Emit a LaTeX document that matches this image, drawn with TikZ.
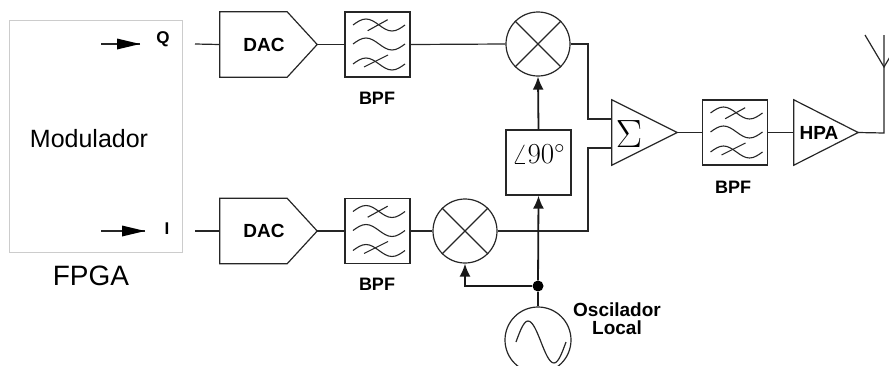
\documentclass[tikz,border=0pt]{standalone}
\usepackage{fontspec}
\setmainfont{Liberation Sans}
\usetikzlibrary{arrows.meta}
\tikzset{
  waves/.pic={
    \draw[line width=1.1pt, black!85] (-24.5,-19.5) sin (-11.5,-25.5) cos (1.5,-19.5) sin (14.5,-13.5) cos (27.5,-19.5);
    \draw[line width=1.1pt, black!85] (-24.5,-0.5) sin (-11.5,-6.5) cos (1.5,-0.5) sin (14.5,5.5) cos (27.5,-0.5);
    \draw[line width=1.1pt, black!85] (-24.5,19.5) sin (-11.5,13.5) cos (1.5,19.5) sin (14.5,25.5) cos (27.5,19.5);
    \draw[line width=1.1pt, black!85] (-9.8,-13.8) -- (10.2,-24.8);
    \draw[line width=1.1pt, black!85] (-13.5,22.5) -- (10.5,10.5);
  },
  headR/.pic={
    \fill[black] (0,0) -- (-23,-5.5) -- (-23,5.5) -- cycle;
  }
}
\begin{document}
\begin{tikzpicture}[x=1pt,y=-1pt,
  ln/.style={line width=1.2pt, draw=black!85},
  lo/.style={line width=1.8pt, draw=black!90},
  tip/.style={-{Latex[length=13pt,width=11pt]}},
  lbl/.style={font=\fontsize{18}{20}\selectfont\bfseries, inner sep=0},
  blk/.style={font=\fontsize{19}{20}\selectfont\bfseries, inner sep=0},
  pin/.style={font=\fontsize{17}{18}\selectfont\bfseries, inner sep=0},
  box/.style={draw=black!85, line width=1.2pt, minimum width=65pt, minimum height=65pt, inner sep=0},
  ghost/.style={minimum width=#1, minimum height=65pt, inner sep=0},
  mix/.style={circle, draw=black!85, line width=1.2pt, minimum size=64pt, inner sep=0},
]
\useasboundingbox (0,0) rectangle (889,365);

% FPGA / modulator
\node[draw=black!20, line width=1pt, minimum width=173pt, minimum height=232pt, inner sep=0] (fpga) at (95.5,136) {};
\node[font=\fontsize{25}{28}\selectfont, inner sep=0] (modtxt) at (89,139) {Modulador};
\node[font=\fontsize{28}{30}\selectfont, inner sep=0] (fpgatxt) at (91,276) {FPGA};

\node[pin] (q) at (163,39) {Q};
\node[pin] (i) at (167,229) {I};
\coordinate (qs) at (101,44); \coordinate (qe) at (140,44);
\coordinate (is) at (101,231); \coordinate (ie) at (145,231);
\draw[ln] (qs) -- (qe);
\draw[ln] (is) -- (ie);
\pic at (qe) {headR};
\pic at (ie) {headR};
\coordinate (qo) at (195,44);
\coordinate (io) at (195,231);

% DACs
\node[ghost=97pt] (dac1) at (268.5,44.5) {};
\draw[ln] (dac1.north west) -- ([xshift=-30pt]dac1.north east) -- (dac1.east) -- ([xshift=-30pt]dac1.south east) -- (dac1.south west) -- cycle;
\node[blk] (dac1t) at (264,44.5) {DAC};
\node[ghost=97pt] (dac2) at (268.5,231) {};
\draw[ln] (dac2.north west) -- ([xshift=-30pt]dac2.north east) -- (dac2.east) -- ([xshift=-30pt]dac2.south east) -- (dac2.south west) -- cycle;
\node[blk] (dac2t) at (264,231) {DAC};
\draw[ln] (qo) -- (dac1.west);
\draw[ln] (io) -- (dac2.west);

% BPFs
\node[box] (bpf1) at (377.5,44.5) {};
\pic at (bpf1) {waves};
\node[lbl] (bpf1l) at (377,98.5) {BPF};
\node[box] (bpf2) at (377.5,231) {};
\pic at (bpf2) {waves};
\node[lbl] (bpf2l) at (377,284) {BPF};
\draw[ln] (dac1.east) -- (bpf1.west);
\draw[ln] (dac2.east) -- (bpf2.west);

% mixers
\node[mix] (m1) at (538,44) {};
\draw[ln] (m1.45) -- (m1.225) (m1.135) -- (m1.315);
\node[mix] (m2) at (465,231) {};
\draw[ln] (m2.45) -- (m2.225) (m2.135) -- (m2.315);
\draw[ln] (bpf1.east) -- (m1.west);
\draw[ln] (bpf2.east) -- (m2.west);

% phase shifter
\node[box] (ph) at (538.5,162.5) {};
\node[font=\fontsize{20}{22}\selectfont, inner sep=0] (pht) at (538.5,154) {\scalebox{1.4}{$\angle 90^\circ$}};

% summer
\node[ghost=65pt] (sum) at (644.5,132.5) {};
\draw[ln] (sum.north west) -- (sum.east) -- (sum.south west) -- cycle;
\node[font=\fontsize{20}{22}\selectfont, inner sep=0] (sig) at (629,134) {\scalebox{1.9}{$\Sigma$}};
\coordinate (j1) at (588,119);
\coordinate (j2) at (588,148);
\draw[ln] (m1.east) -| (j1) -- (j1 -| sum.west);
\draw[ln] (m2.east) -| (j2) -- (j2 -| sum.west);

% output BPF and HPA
\node[box] (bpf3) at (735,132.5) {};
\pic at (bpf3) {waves};
\node[lbl] (bpf3l) at (733,187) {BPF};
\draw[ln] (sum.east) -- (bpf3.west);
\node[ghost=64pt] (hpa) at (826,132.5) {};
\draw[ln] (hpa.north west) -- (hpa.east) -- (hpa.south west) -- cycle;
\node[blk] (hpat) at (819,132.5) {HPA};
\draw[ln] (bpf3.east) -- (hpa.west);

% antenna
\coordinate (ant) at (884,133);
\coordinate (antb) at (884,67);
\coordinate (antt) at (884,35);
\coordinate (antl) at (865,35);
\coordinate (antr) at (903,35);
\draw[ln] (hpa.east) -- (ant) -- (antt);
\draw[ln] (antl) -- (antb) -- (antr);

% local oscillator
\node[mix, minimum size=66pt] (osc) at (538,340) {};
\draw[ln] (516,342) sin (528,321) cos (541,342) sin (554,363) cos (566,342);
\node[circle, fill=black, inner sep=0, minimum size=11pt] (dot) at (538,286) {};
\draw[lo] (osc.north) -- (dot);
\draw[lo, tip] (dot) -- (ph.south);
\draw[lo, tip] (dot) -| (m2.south);
\draw[lo, tip] (ph.north) -- (m1.south);
\node[align=center, font=\fontsize{19}{18}\selectfont\bfseries, inner sep=0] (osct) at (617,319) {Oscilador\\Local};
\end{tikzpicture}
\end{document}
